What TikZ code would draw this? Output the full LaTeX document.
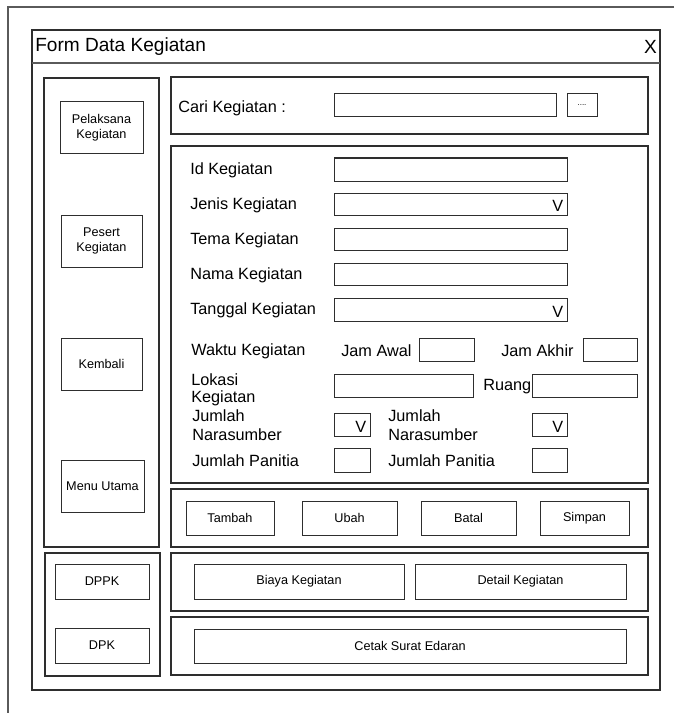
\documentclass[tikz,border=0pt]{standalone}
\usepackage{fontspec}
\setmainfont{Liberation Sans}
\usetikzlibrary{fit}
\definecolor{edge}{HTML}{2E2E2E}
\definecolor{frame}{HTML}{5A5A5A}
\tikzset{
  px/.style={x=0.75pt,y=-0.75pt},
  panel/.style={draw=edge,line width=0.8pt,inner sep=0pt},
  field/.style={draw=edge,line width=0.75pt,inner sep=0pt},
  btn/.style={draw=edge,line width=0.75pt,inner sep=0pt},
  lbl/.style={anchor=west,inner sep=0pt,yshift=-1.5pt,font=\fontsize{12.2}{12.8}\selectfont,align=left},
  btntext/.style={inner sep=0pt,font=\fontsize{9.5}{11}\selectfont,align=center},
  titletext/.style={inner sep=0pt,font=\fontsize{14.3}{16}\selectfont},
}
% \uibox{name}{x1}{y1}{x2}{y2}{style}
\newcommand{\uibox}[6]{\node[#6,fit={(#2,#3) (#4,#5)}] (#1) {};}
\begin{document}
\begin{tikzpicture}[px]
\useasboundingbox (0,0) rectangle (674,713);
\fill[white] (0,0) rectangle (674,713);

% outer frame
\coordinate (ftl) at (8,7);
\coordinate (ftr) at (674,7);
\coordinate (fbl) at (8,713);
\draw[frame,line width=0.9pt] (ftr) -- (ftl) -- (fbl);

% window and title bar
\uibox{win}{32}{30}{660}{690}{panel}
\coordinate (tbl) at (32,63);
\coordinate (tbr) at (660,63);
\draw[frame,line width=1.3pt] (tbl) -- (tbr);
\node[titletext,anchor=west] (title) at (35,46.5) {Form Data Kegiatan};
\node[titletext,anchor=east] (close) at (657,46.5) {X};

% left navigation panel
\uibox{nav}{44}{78}{159}{547}{panel}
\uibox{bpel}{60}{102}{143}{154}{btn}
\node[btntext] at (bpel) {Pelaksana\\Kegiatan};
\uibox{bpes}{61}{215}{142}{267}{btn}
\node[btntext] at (bpes) {Pesert\\Kegiatan};
\uibox{bkem}{61}{338}{142}{390}{btn}
\node[btntext] at (bkem) {Kembali};
\uibox{bmenu}{61}{460}{144}{512}{btn}
\node[btntext] at (bmenu) {Menu Utama};

% report panel
\uibox{rep}{45}{553}{160}{676}{panel}
\uibox{bdppk}{55}{564}{149}{599}{btn}
\node[btntext] at (bdppk) {DPPK};
\uibox{bdpk}{55}{628}{149}{663}{btn}
\node[btntext] at (bdpk) {DPK};

% search panel
\uibox{cari}{171}{77}{648}{134}{panel}
\node[lbl] (lcari) at (178,106) {Cari Kegiatan :};
\uibox{fcari}{334}{94}{556}{117}{field}
\uibox{bcari}{567}{94}{597}{117}{btn}
\node[inner sep=0pt,font=\fontsize{6}{7}\selectfont] at (bcari) {....};

% data panel
\uibox{form}{171}{146}{648}{483}{panel}
\node[lbl] (lid) at (190,168) {Id Kegiatan};
\node[lbl] (ljenis) at (190,203) {Jenis Kegiatan};
\node[lbl] (ltema) at (190,238) {Tema Kegiatan};
\node[lbl] (lnama) at (190,273) {Nama Kegiatan};
\node[lbl] (ltgl) at (190,308) {Tanggal Kegiatan};
\uibox{fid}{334}{158}{567}{181}{field}
\uibox{fjenis}{334}{193}{567}{215}{field}
\node[lbl,anchor=east] at ([xshift=-3pt]fjenis.east) {V};
\uibox{ftema}{334}{228}{567}{250}{field}
\uibox{fnama}{334}{263}{567}{285}{field}
\uibox{ftgl}{334}{298}{567}{321}{field}
\node[lbl,anchor=east] at ([xshift=-3pt]ftgl.east) {V};

\node[lbl] (lwaktu) at (191,349) {Waktu Kegiatan};
\node[lbl] (ljawal) at (341,349) {Jam Awal};
\uibox{fjawal}{419}{338}{474}{361}{field}
\node[lbl] (ljakhir) at (501,349) {Jam Akhir};
\uibox{fjakhir}{583}{338}{637}{361}{field}

\node[lbl] (llok) at (191,388) {Lokasi\\Kegiatan};
\uibox{flok}{334}{374}{473}{397}{field}
\node[lbl] (lruang) at (483,385) {Ruang};
\uibox{fruang}{532}{374}{637}{397}{field}

\node[lbl,font=\fontsize{12.2}{14.5}\selectfont] (lnara) at (192,423) {Jumlah\\Narasumber};
\uibox{fnara}{334}{413}{370}{436}{field}
\node[lbl,anchor=east] at ([xshift=-3pt]fnara.east) {V};
\node[lbl,font=\fontsize{12.2}{14.5}\selectfont] (lnarb) at (388,423) {Jumlah\\Narasumber};
\uibox{fnarb}{532}{413}{567}{436}{field}
\node[lbl,anchor=east] at ([xshift=-3pt]fnarb.east) {V};

\node[lbl] (lpana) at (192,459) {Jumlah Panitia};
\uibox{fpana}{334}{448}{370}{472}{field}
\node[lbl] (lpanb) at (388,459) {Jumlah Panitia};
\uibox{fpanb}{532}{448}{567}{472}{field}

% action buttons
\uibox{act}{171}{489}{648}{547}{panel}
\uibox{btambah}{186}{501}{274}{535}{btn}
\node[btntext] at (btambah) {Tambah};
\uibox{bubah}{302}{501}{397}{535}{btn}
\node[btntext] at (bubah) {Ubah};
\uibox{bbatal}{421}{501}{516}{535}{btn}
\node[btntext] at (bbatal) {Batal};
\uibox{bsimpan}{540}{501}{629}{535}{btn}
\node[btntext] at (bsimpan) {Simpan};

% cost and detail
\uibox{cost}{171}{553}{648}{611}{panel}
\uibox{bbiaya}{194}{564}{404}{599}{btn}
\node[btntext] at (bbiaya) {Biaya Kegiatan};
\uibox{bdetail}{415}{564}{626}{599}{btn}
\node[btntext] at (bdetail) {Detail Kegiatan};

% print
\uibox{print}{171}{617}{648}{675}{panel}
\uibox{bcetak}{194}{629}{626}{663}{btn}
\node[btntext] at (bcetak) {Cetak Surat Edaran};
\end{tikzpicture}
\end{document}
